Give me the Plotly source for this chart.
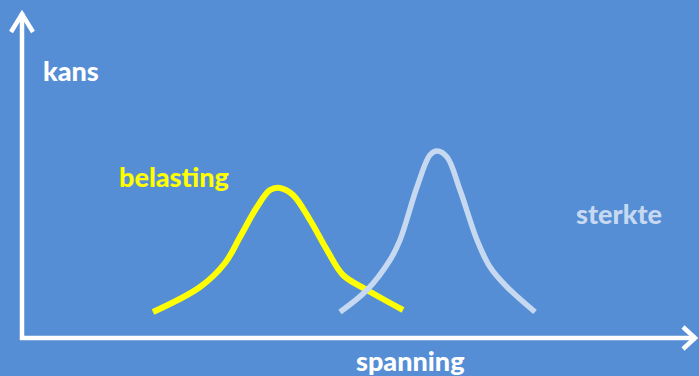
import plotly.graph_objects as go

# schematic curves, x = spanning, y = kans (chart units = pixels, y up)
H = 376
belasting_x = [153, 200, 225, 240, 257, 270, 280, 293, 310, 327, 343, 367, 403]
belasting_y = [312, 287, 263, 237, 207, 190, 188, 195, 220, 250, 275, 290, 310]
sterkte_x = [340, 367, 390, 400, 417, 430, 437, 447, 460, 477, 490, 507, 535]
sterkte_y = [312, 290, 260, 240, 187, 155, 151, 157, 190, 240, 267, 287, 312]

axis_x = [22, 22, 696]
axis_y = [13, 338, 338]

labels = ["kans", "belasting", "sterkte", "spanning"]
label_x = [71, 174, 619, 410]
label_y = [70, 176, 213, 360]
label_col = ["white", "#FFFF00", "#C6D9F1", "white"]

bg = "#558ED5"
fig = go.Figure()


def flip(ys):
    return [H - v for v in ys]


fig.add_trace(go.Scatter(x=belasting_x, y=flip(belasting_y), mode="lines",
                         line=dict(color="#FFFF00", width=6, shape="spline", smoothing=1),
                         showlegend=False, hoverinfo="skip"))
fig.add_trace(go.Scatter(x=sterkte_x, y=flip(sterkte_y), mode="lines",
                         line=dict(color="#C6D9F1", width=5.5, shape="spline", smoothing=1),
                         showlegend=False, hoverinfo="skip"))

# axes with open arrowheads
fig.add_trace(go.Scatter(x=axis_x, y=flip(axis_y), mode="lines",
                         line=dict(color="white", width=4.5), showlegend=False, hoverinfo="skip"))
fig.add_trace(go.Scatter(x=[11, 22, 33], y=flip([32, 14, 32]), mode="lines",
                         line=dict(color="white", width=4.5), showlegend=False, hoverinfo="skip"))
fig.add_trace(go.Scatter(x=[683, 695, 683], y=flip([327, 338, 349]), mode="lines",
                         line=dict(color="white", width=4.5), showlegend=False, hoverinfo="skip"))

for t, x, y, c in zip(labels, label_x, label_y, label_col):
    fig.add_annotation(x=x, y=H - y, text=t, showarrow=False,
                       font=dict(family="Lato", size=27, color=c, weight=900))

fig.update_xaxes(range=[0, 699], visible=False, fixedrange=True)
fig.update_yaxes(range=[0, H], visible=False, fixedrange=True)
fig.update_layout(width=699, height=376, margin=dict(l=0, r=0, t=0, b=0),
                  paper_bgcolor=bg, plot_bgcolor=bg)

fig.write_html("out.html", config={"displayModeBar": False},
               post_script="document.body.style.margin='0';document.body.style.overflow='hidden';")
